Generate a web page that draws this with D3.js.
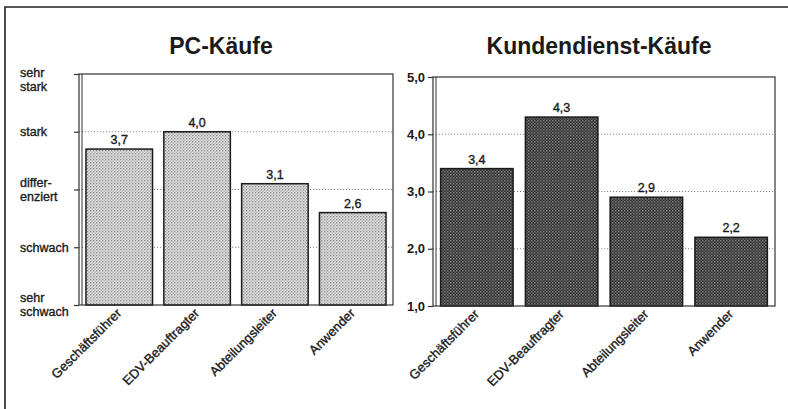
<!DOCTYPE html>
<html>
<head>
<meta charset="utf-8">
<script src="https://cdn.jsdelivr.net/npm/d3@7"></script>
<style>
  html, body { margin: 0; padding: 0; background: #fff; }
  svg { display: block; }
  text { font-family: "Liberation Sans", Arial, Helvetica, sans-serif; fill: #1a1a1a; }
  text.thin { stroke: #1a1a1a; stroke-width: 0.35px; }
</style>
</head>
<body>
<svg id="chart" width="788" height="409"></svg>
<script>
// Befragte Gruppen (gleiche Reihenfolge in beiden Diagrammen)
const categories = ["Geschäftsführer", "EDV-Beauftragter", "Abteilungsleiter", "Anwender"];

// Einfluss auf PC-Käufe (Skala 1 = sehr schwach … 5 = sehr stark)
const pcValues = [3.7, 4.0, 3.1, 2.6];
// Einfluss auf Kundendienst-Käufe (Skala 1,0 … 5,0)
const serviceValues = [3.4, 4.3, 2.9, 2.2];

// Achsenbeschriftungen
const scaleTicks = [1, 2, 3, 4, 5];
const pcTickLabels = [["sehr", "schwach"], ["schwach"], ["differ-", "enziert"], ["stark"], ["sehr", "stark"]];
const serviceTickLabels = ["1,0", "2,0", "3,0", "4,0", "5,0"];

const titles = ["PC-Käufe", "Kundendienst-Käufe"];

const fmt = v => d3.format(".1f")(v).replace(".", ",");

const svg = d3.select("#chart");
svg.append("rect").attr("width", 788).attr("height", 409).attr("fill", "#fff");

// Rasterfüllungen der Balken
const defs = svg.append("defs");
const light = defs.append("pattern").attr("id", "dotsLight")
  .attr("patternUnits", "userSpaceOnUse").attr("width", 3).attr("height", 3);
light.append("rect").attr("width", 3).attr("height", 3).attr("fill", "#e0e0e0");
light.append("rect").attr("x", 0).attr("y", 0).attr("width", 1.3).attr("height", 1.3).attr("fill", "#8a8a8a");
light.append("rect").attr("x", 1.5).attr("y", 1.5).attr("width", 1.3).attr("height", 1.3).attr("fill", "#a4a4a4");

const dark = defs.append("pattern").attr("id", "dotsDark")
  .attr("patternUnits", "userSpaceOnUse").attr("width", 3).attr("height", 3);
dark.append("rect").attr("width", 3).attr("height", 3).attr("fill", "#2e2e2e");
dark.append("rect").attr("x", 0).attr("y", 0).attr("width", 1.5).attr("height", 1.5).attr("fill", "#808080");
dark.append("rect").attr("x", 1.5).attr("y", 1.5).attr("width", 1.5).attr("height", 1.5).attr("fill", "#626262");

// Rahmen der Abbildung (oben und links)
svg.append("path")
  .attr("d", "M5,409 L5,7 L788,7")
  .attr("fill", "none").attr("stroke", "#222").attr("stroke-width", 1.6);

function drawPanel(opts) {
  const { x0, x1, yTop, yBottom, values, fill, titleX } = opts;
  const g = svg.append("g");

  const x = d3.scaleBand().domain(categories).range([x0, x1])
    .paddingInner(0.145).paddingOuter(0.09);
  const y = d3.scaleLinear().domain([1, 5]).range([yBottom, yTop]);

  // Titel
  g.append("text")
    .attr("x", titleX).attr("y", 54)
    .attr("text-anchor", "middle")
    .attr("font-size", 23).attr("font-weight", "bold")
    .text(opts.title);

  // Gitternetzlinien (gepunktet)
  g.selectAll("line.grid").data(scaleTicks.filter(t => t > 1 && t < 5)).join("line")
    .attr("class", "grid")
    .attr("x1", x0).attr("x2", x1)
    .attr("y1", d => y(d)).attr("y2", d => y(d))
    .attr("stroke", "#8a8a8a").attr("stroke-width", 1)
    .attr("stroke-dasharray", "1.2,1.8");

  // Balken
  g.selectAll("rect.bar").data(values).join("rect")
    .attr("class", "bar")
    .attr("x", (d, i) => x(categories[i]))
    .attr("width", x.bandwidth())
    .attr("y", d => y(d))
    .attr("height", d => y(1) - y(d))
    .attr("fill", fill)
    .attr("stroke", "#1a1a1a").attr("stroke-width", 1.5);

  // Werte über den Balken
  g.selectAll("text.val").data(values).join("text")
    .attr("class", "val thin")
    .attr("x", (d, i) => x(categories[i]) + x.bandwidth() / 2)
    .attr("y", d => y(d) - 5)
    .attr("text-anchor", "middle")
    .attr("font-size", 12.5)
    .text(fmt);

  // Diagrammrahmen mit doppelter linker Achse
  g.append("rect")
    .attr("x", x0).attr("y", yTop)
    .attr("width", x1 - x0).attr("height", yBottom - yTop)
    .attr("fill", "none").attr("stroke", "#333").attr("stroke-width", 1.2);
  g.append("line")
    .attr("x1", x0 + 3).attr("x2", x0 + 3)
    .attr("y1", yTop).attr("y2", yBottom)
    .attr("stroke", "#333").attr("stroke-width", 1);

  // Achse mit Teilstrichen
  const axis = d3.axisLeft(y).tickValues(scaleTicks).tickSize(5).tickFormat("");
  const ax = g.append("g").attr("transform", `translate(${x0},0)`).call(axis);
  ax.select(".domain").remove();
  ax.selectAll(".tick line").attr("stroke", "#333").attr("stroke-width", 1.2);

  // Kategorien, um 45° gedreht
  g.selectAll("text.cat").data(categories).join("text")
    .attr("class", "cat thin")
    .attr("text-anchor", "end")
    .attr("font-size", 13)
    .attr("transform", d => `translate(${x(d) + x.bandwidth() / 2 + 3},${yBottom + 9}) rotate(-45)`)
    .text(d => d);

  return { x, y, g };
}

// Linkes Diagramm: PC-Käufe
const left = drawPanel({
  x0: 79, x1: 393, yTop: 74, yBottom: 305,
  values: pcValues, fill: "url(#dotsLight)", title: titles[0], titleX: 221
});
scaleTicks.forEach((t, i) => {
  const lines = pcTickLabels[i];
  const ty = left.y(t);
  const first = lines.length > 1 ? Math.max(ty - 3, 74 + 3) : ty + 4.5;
  const txt = left.g.append("text")
    .attr("class", "thin")
    .attr("x", 20).attr("y", first)
    .attr("font-size", 12.5);
  lines.forEach((l, j) => {
    txt.append("tspan").attr("x", 20).attr("dy", j === 0 ? 0 : 14).text(l);
  });
});

// Rechtes Diagramm: Kundendienst-Käufe
const right = drawPanel({
  x0: 433, x1: 775, yTop: 77, yBottom: 306,
  values: serviceValues, fill: "url(#dotsDark)", title: titles[1], titleX: 599
});
right.g.selectAll("text.tick").data(scaleTicks).join("text")
  .attr("class", "tick")
  .attr("x", 425)
  .attr("y", d => right.y(d) + 4.5)
  .attr("text-anchor", "end")
  .attr("font-size", 13).attr("font-weight", "bold")
  .text((d, i) => serviceTickLabels[i]);
</script>
</body>
</html>
